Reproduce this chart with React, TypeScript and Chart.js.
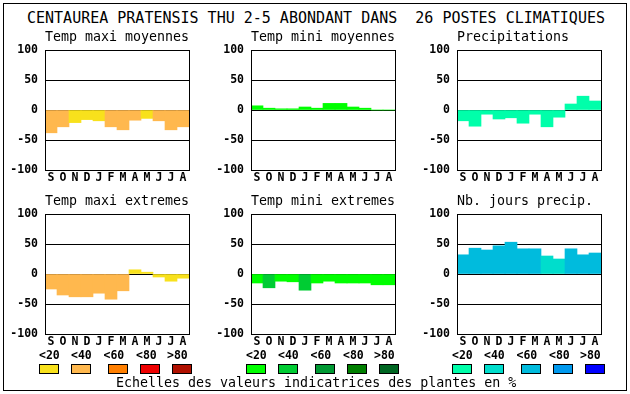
import React, { useEffect, useRef } from "react";
import { Chart, registerables } from "chart.js";

Chart.register(...registerables);

// ---------- data ----------
const months = ["S", "O", "N", "D", "J", "F", "M", "A", "M", "J", "J", "A"];
const scaleLabels = ["<20", "<40", "<60", "<80", ">80"];
const mainTitle = "CENTAUREA PRATENSIS THU 2-5 ABONDANT DANS  26 POSTES CLIMATIQUES";
const footerText = "Echelles des valeurs indicatrices des plantes en %";

const tempMaxiMoyennes = [-38, -28, -21, -16, -18, -28, -33, -17, -14, -18, -33, -28];
const tempMaxiMoyennesClass = [1, 1, 0, 0, 0, 1, 1, 1, 0, 1, 1, 1];

const tempMiniMoyennes = [7, 3, 2, 2, 5, 3, 11, 11, 5, 3, 0, 0];
const tempMiniMoyennesClass = [0, 0, 0, 0, 0, 0, 0, 0, 0, 0, 0, 0];

const precipitations = [-18, -27, -7, -15, -13, -22, -7, -28, -12, 10, 23, 15];
const precipitationsClass = [0, 0, 0, 0, 0, 0, 0, 0, 0, 0, 0, 0];

const tempMaxiExtremes = [-25, -35, -38, -38, -32, -42, -28, 7, 3, -5, -12, -7];
const tempMaxiExtremesClass = [1, 1, 1, 1, 1, 1, 1, 0, 0, 0, 0, 0];

const tempMiniExtremes = [-15, -23, -12, -13, -27, -15, -12, -15, -15, -15, -18, -18];
const tempMiniExtremesClass = [0, 1, 0, 0, 1, 0, 0, 0, 0, 0, 0, 0];

const nbJoursPrecip = [32, 43, 40, 47, 53, 42, 42, 30, 25, 42, 32, 35];
const nbJoursPrecipClass = [2, 2, 2, 2, 2, 2, 2, 1, 1, 2, 2, 2];

// ---------- styles ----------
const paletteMaxi = ["#f8e11c", "#ffb84e", "#ff7f00", "#ee0000", "#b01000"];
const paletteMini = ["#00ff00", "#00cc33", "#009933", "#007f00", "#006622"];
const palettePrecip = ["#00ffaa", "#00ddcc", "#00bbdd", "#0099ee", "#0000ff"];

const FONT = "'DejaVu Sans Mono', monospace";

function makeFramePlugin(title: string) {
  return {
    id: "frameAndTitle",
    afterDraw(chart: any) {
      const { ctx, chartArea } = chart;
      ctx.save();
      ctx.strokeStyle = "#000";
      ctx.lineWidth = 1;
      ctx.strokeRect(
        chartArea.left + 0.5,
        chartArea.top + 0.5,
        chartArea.right - chartArea.left,
        chartArea.bottom - chartArea.top
      );
      ctx.fillStyle = "#000";
      ctx.font = `13.3px ${FONT}`;
      ctx.textAlign = "left";
      ctx.textBaseline = "middle";
      ctx.fillText(title, chartArea.left, chartArea.top - 12);
      ctx.restore();
    },
  };
}

function Panel(props: {
  title: string;
  values: number[];
  classes: number[];
  palette: string[];
  left: number;
  top: number;
}) {
  const ref = useRef<HTMLCanvasElement>(null);
  useEffect(() => {
    const { title, values, classes, palette } = props;
    const chart = new Chart(ref.current as HTMLCanvasElement, {
      type: "bar",
      data: {
        labels: months,
        datasets: [
          {
            data: values,
            backgroundColor: classes.map((c) => palette[c]),
            borderWidth: 0,
            categoryPercentage: 1,
            barPercentage: 1,
          },
        ],
      },
      options: {
        animation: false,
        responsive: false,
        devicePixelRatio: 1,
        events: [],
        layout: { padding: { top: 22, left: 0, right: 17, bottom: 4 } },
        plugins: {
          legend: { display: false },
          tooltip: { enabled: false },
          title: { display: false },
        },
        scales: {
          x: {
            offset: true,
            grid: { display: false, drawTicks: false },
            border: { display: false },
            ticks: {
              autoSkip: false,
              maxRotation: 0,
              minRotation: 0,
              padding: 1,
              color: "#000",
              font: { family: FONT, size: 11.5, weight: "bold" },
            },
            afterFit: (s: any) => {
              s.height = 14;
            },
          },
          y: {
            min: -100,
            max: 100,
            z: 1,
            grid: { color: "#000", lineWidth: 1, drawTicks: false },
            border: { display: true, color: "#000" },
            ticks: {
              stepSize: 50,
              padding: 7,
              color: "#000",
              font: { family: FONT, size: 11.5, weight: "bold" },
            },
            afterFit: (s: any) => {
              s.width = 45;
            },
          },
        },
      } as any,
      plugins: [makeFramePlugin(title)],
    });
    return () => chart.destroy();
  }, []);
  return (
    <canvas
      ref={ref}
      width={206}
      height={160}
      style={{ position: "absolute", left: props.left, top: props.top, width: 206, height: 160 }}
    />
  );
}

const labelOffsets = [0, 32, 64.5, 97, 128];
const boxOffsets = [0, 32.3, 68.6, 100.8, 133.1];
const groupStarts = [39, 246, 452];

function LegendGroup(props: { x: number; palette: string[] }) {
  return (
    <>
      {scaleLabels.map((t, i) => (
        <div
          key={"l" + i}
          style={{
            position: "absolute",
            left: props.x + labelOffsets[i],
            top: 348,
            font: `bold 11.5px ${FONT}`,
            lineHeight: "14px",
            color: "#000",
            whiteSpace: "pre",
          }}
        >
          {t}
        </div>
      ))}
      {props.palette.map((c, i) => (
        <div
          key={"b" + i}
          style={{
            position: "absolute",
            left: props.x + boxOffsets[i],
            top: 364,
            width: 20,
            height: 10,
            boxSizing: "border-box",
            border: "1px solid #000",
            background: c,
          }}
        />
      ))}
    </>
  );
}

export default function App() {
  const rowTops = [28, 192];
  const colLefts = [0, 206, 412];
  return (
    <div
      style={{
        position: "fixed",
        left: 0,
        top: 0,
        width: 630,
        height: 394,
        background: "#fff",
        overflow: "hidden",
      }}
    >
      <div
        style={{
          position: "absolute",
          left: 3,
          top: 3,
          width: 624,
          height: 388,
          boxSizing: "border-box",
          border: "1px solid #000",
        }}
      />
      <div
        style={{
          position: "absolute",
          left: 27,
          top: 10,
          font: `15px ${FONT}`,
          lineHeight: "16px",
          color: "#000",
          whiteSpace: "pre",
        }}
      >
        {mainTitle}
      </div>
      <Panel title="Temp maxi moyennes" values={tempMaxiMoyennes} classes={tempMaxiMoyennesClass} palette={paletteMaxi} left={colLefts[0]} top={rowTops[0]} />
      <Panel title="Temp mini moyennes" values={tempMiniMoyennes} classes={tempMiniMoyennesClass} palette={paletteMini} left={colLefts[1]} top={rowTops[0]} />
      <Panel title="Precipitations" values={precipitations} classes={precipitationsClass} palette={palettePrecip} left={colLefts[2]} top={rowTops[0]} />
      <Panel title="Temp maxi extremes" values={tempMaxiExtremes} classes={tempMaxiExtremesClass} palette={paletteMaxi} left={colLefts[0]} top={rowTops[1]} />
      <Panel title="Temp mini extremes" values={tempMiniExtremes} classes={tempMiniExtremesClass} palette={paletteMini} left={colLefts[1]} top={rowTops[1]} />
      <Panel title="Nb. jours precip." values={nbJoursPrecip} classes={nbJoursPrecipClass} palette={palettePrecip} left={colLefts[2]} top={rowTops[1]} />
      <LegendGroup x={groupStarts[0]} palette={paletteMaxi} />
      <LegendGroup x={groupStarts[1]} palette={paletteMini} />
      <LegendGroup x={groupStarts[2]} palette={palettePrecip} />
      <div
        style={{
          position: "absolute",
          left: 116,
          top: 376,
          font: `13.3px ${FONT}`,
          lineHeight: "14px",
          color: "#000",
          whiteSpace: "pre",
        }}
      >
        {footerText}
      </div>
    </div>
  );
}
